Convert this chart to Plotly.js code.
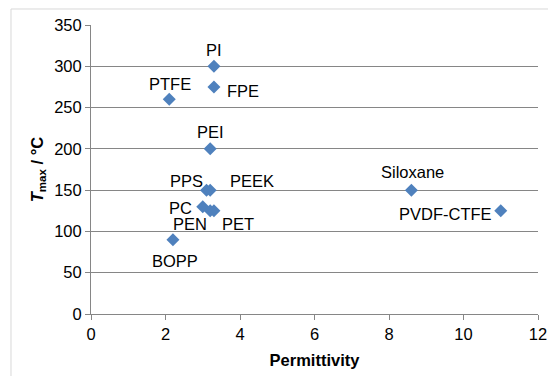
<!DOCTYPE html>
<html>
<head>
<meta charset="utf-8">
<script src="https://cdn.plot.ly/plotly-3.0.1.min.js"></script>
<style>
html,body{margin:0;padding:0;background:#fff;}
#chart{width:548px;height:376px;}
</style>
</head>
<body>
<div id="chart"></div>
<script>
const materials = ["PI","FPE","PTFE","PEI","PPS","PEEK","PC","PEN","PET","BOPP","Siloxane","PVDF-CTFE"];
const permittivity = [3.3, 3.3, 2.1, 3.2, 3.1, 3.2, 3.0, 3.2, 3.3, 2.2, 8.6, 11];
const tmax = [300, 275, 260, 200, 150, 150, 130, 125, 125, 90, 150, 125];

// label offsets in pixels (style only): [dx, dy], dy positive = up
const labelOffsets = [[0,16],[29.5,-4],[1,15],[0,16.5],[-19.5,9],[42,9],[-22,-1],[-20,-13],[24.5,-13],[2.5,-21],[1.5,18.5],[-55,-3]];

const font = {family: "Liberation Sans, Arial, sans-serif", size: 16.5, color: "#000"};
const gray = "#868686";

const trace = {
  type: "scatter",
  mode: "markers",
  x: permittivity,
  y: tmax,
  text: materials,
  marker: {symbol: "diamond", size: 10, color: "#4F81BD"},
  cliponaxis: false,
  hoverinfo: "x+y+text"
};

const annotations = materials.map((m, i) => ({
  x: permittivity[i], y: tmax[i], xref: "x", yref: "y",
  text: m, showarrow: false,
  xanchor: "center", yanchor: "middle",
  xshift: labelOffsets[i][0], yshift: labelOffsets[i][1],
  font: font
}));

const layout = {
  width: 548, height: 376,
  margin: {l: 91, r: 10, t: 25, b: 62},
  paper_bgcolor: "#fff",
  plot_bgcolor: "#fff",
  showlegend: false,
  font: font,
  xaxis: {
    range: [0, 12], dtick: 2, tick0: 0,
    showgrid: false, zeroline: false,
    showline: true, linecolor: gray, linewidth: 1,
    ticks: "outside", ticklen: 5, tickcolor: gray,
    tickfont: font,
    title: {text: "<b>Permittivity</b>", font: font, standoff: 12}
  },
  yaxis: {
    range: [0, 350], dtick: 50, tick0: 0,
    showgrid: true, gridcolor: gray, gridwidth: 1,
    zeroline: false,
    showline: true, linecolor: gray, linewidth: 1,
    ticks: "outside", ticklen: 5, tickcolor: gray,
    tickfont: font,
    title: {text: "<b><i>T</i><sub>max</sub> / °C</b>", font: font, standoff: 6}
  },
  annotations: annotations,
  shapes: [
    {type: "line", xref: "paper", yref: "paper", x0: -0.179, x1: -0.179, y0: -0.3, y1: 1.0554,
     line: {color: "#d9d9d9", width: 1}},
    {type: "line", xref: "paper", yref: "paper", x0: -0.179, x1: 1.1, y0: 1.0554, y1: 1.0554,
     line: {color: "#d9d9d9", width: 1}}
  ]
};

Plotly.newPlot("chart", [trace], layout, {displayModeBar: false, staticPlot: true});
</script>
</body>
</html>
